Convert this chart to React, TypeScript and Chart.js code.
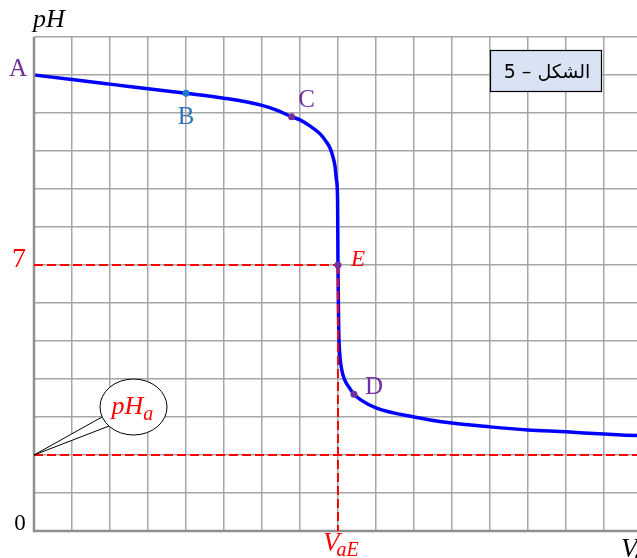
import React, { useEffect, useRef } from "react";
import { Chart, registerables } from "chart.js";

Chart.register(...registerables);

// Titration curve: pH versus added acid volume
const volumes = [0, 1, 2, 3, 4, 5, 6, 6.4, 6.78, 7.0, 7.26, 7.53, 7.68, 7.79, 7.87, 7.92, 7.96, 7.99, 8.0, 8.01, 8.02, 8.04, 8.1, 8.18, 8.32, 8.42, 8.6, 9, 10, 11, 12, 13, 14, 15, 15.87];
const phValues = [12.0, 11.88, 11.76, 11.64, 11.52, 11.39, 11.2, 11.07, 10.9, 10.82, 10.66, 10.45, 10.26, 10.08, 9.84, 9.61, 9.24, 8.71, 7.0, 6.08, 5.29, 4.76, 4.24, 3.97, 3.74, 3.6, 3.45, 3.24, 3.0, 2.84, 2.74, 2.66, 2.61, 2.55, 2.51];

// Marked points on the curve
const pointNames = ["B", "C", "E", "D"];
const pointVolumes = [4, 6.78, 8, 8.42];
const pointPh = [11.52, 10.9, 7, 3.6];
const pointColors = ["#1a7cc4", "#7030a0", "#7030a0", "#7030a0"];

// Reference values
const V_EQ = 8;
const PH_EQ = 7;
const PH_A = 2;
const PH_START = 12;
const X_MAX = 15.87;
const Y_MAX = 13;

const SERIF = "'Liberation Serif', 'DejaVu Serif', serif";

const annotations = {
  id: "annotations",
  afterDatasetDraw(chart: any, args: any) {
    if (args.index !== 1) return;
    const { ctx, scales, chartArea } = chart;
    const x = scales.x;
    const y = scales.y;
    ctx.save();
    // axes
    ctx.strokeStyle = "#8f8f8f";
    ctx.lineWidth = 2.5;
    ctx.beginPath();
    ctx.moveTo(chartArea.left, chartArea.top);
    ctx.lineTo(chartArea.left, chartArea.bottom);
    ctx.lineTo(chartArea.right, chartArea.bottom);
    ctx.stroke();

    // red dashed guides
    ctx.strokeStyle = "#ff0000";
    ctx.lineWidth = 2;
    ctx.setLineDash([9, 4]);
    ctx.beginPath();
    ctx.moveTo(x.getPixelForValue(0), y.getPixelForValue(PH_EQ));
    ctx.lineTo(x.getPixelForValue(V_EQ), y.getPixelForValue(PH_EQ));
    ctx.moveTo(x.getPixelForValue(V_EQ), y.getPixelForValue(PH_EQ));
    ctx.lineTo(x.getPixelForValue(V_EQ), y.getPixelForValue(0));
    ctx.moveTo(x.getPixelForValue(0), y.getPixelForValue(PH_A));
    ctx.lineTo(chartArea.right, y.getPixelForValue(PH_A));
    ctx.stroke();
    ctx.setLineDash([]);
    ctx.restore();
  },
  afterDraw(chart: any) {
    const { ctx, scales, chartArea } = chart;
    const x = scales.x;
    const y = scales.y;
    ctx.save();
    ctx.textBaseline = "alphabetic";

    // callout for pH_a
    const tipX = x.getPixelForValue(0);
    const tipY = y.getPixelForValue(PH_A);
    const cx = tipX + 99.5;
    const cy = tipY - 48;
    ctx.lineWidth = 1;
    ctx.strokeStyle = "#000";
    ctx.fillStyle = "#fff";
    ctx.beginPath();
    ctx.moveTo(tipX, tipY);
    ctx.lineTo(tipX + 68, tipY - 38);
    ctx.lineTo(tipX + 75, tipY - 29);
    ctx.closePath();
    ctx.fill();
    ctx.beginPath();
    ctx.ellipse(cx, cy, 33.5, 28, 0, 0, Math.PI * 2);
    ctx.fill();
    ctx.stroke();
    ctx.beginPath();
    ctx.moveTo(tipX + 68, tipY - 38);
    ctx.lineTo(tipX, tipY);
    ctx.lineTo(tipX + 75, tipY - 29);
    ctx.stroke();
    ctx.fillStyle = "#ff0000";
    ctx.textAlign = "left";
    ctx.font = `italic 26px ${SERIF}`;
    ctx.fillText("pH", cx - 22, cy + 7);
    const pw = ctx.measureText("pH").width;
    ctx.font = `italic 20px ${SERIF}`;
    ctx.fillText("a", cx - 22 + pw, cy + 13);

    // figure tag
    ctx.fillStyle = "#dae3f3";
    ctx.fillRect(490, 50, 112, 42);
    ctx.strokeStyle = "#000";
    ctx.lineWidth = 1.2;
    ctx.strokeRect(490.5, 50.5, 111, 41);
    ctx.fillStyle = "#000";
    ctx.font = "19px 'DejaVu Sans', sans-serif";
    ctx.textAlign = "center";
    (ctx as any).direction = "rtl";
    ctx.fillText("الشكل – 5", 547, 78);
    (ctx as any).direction = "ltr";

    // axis texts
    ctx.textAlign = "left";
    ctx.fillStyle = "#000";
    ctx.font = `italic 26px ${SERIF}`;
    ctx.fillText("pH", 33, 27);
    ctx.font = `23px ${SERIF}`;
    ctx.textAlign = "center";
    ctx.fillText("0", 20, 530);
    ctx.fillStyle = "#ff0000";
    ctx.font = `28px ${SERIF}`;
    ctx.fillText(String(PH_EQ), 19, y.getPixelForValue(PH_EQ) + 2);

    ctx.fillStyle = "#7030a0";
    ctx.font = `25px ${SERIF}`;
    ctx.fillText("A", 18, y.getPixelForValue(PH_START) + 1);

    // V_aE under the equivalence volume
    const vx = x.getPixelForValue(V_EQ);
    ctx.fillStyle = "#ff0000";
    ctx.textAlign = "left";
    ctx.font = `italic 27px ${SERIF}`;
    ctx.fillText("V", vx - 15, 551);
    const vw = ctx.measureText("V").width;
    ctx.font = `italic 20px ${SERIF}`;
    ctx.fillText("aE", vx - 15 + vw - 3, 556);

    // V_a at the right end of the axis
    ctx.fillStyle = "#000";
    ctx.font = `italic 27px ${SERIF}`;
    ctx.fillText("V", chartArea.right - 16, 557);
    const vw2 = ctx.measureText("V").width;
    ctx.font = `italic 20px ${SERIF}`;
    ctx.fillText("a", chartArea.right - 16 + vw2 - 3, 562);

    // point labels
    pointNames.forEach((name, i) => {
      const px = x.getPixelForValue(pointVolumes[i]);
      const py = y.getPixelForValue(pointPh[i]);
      ctx.textAlign = "center";
      if (name === "B") {
        ctx.fillStyle = "#2e75b6";
        ctx.font = `25px ${SERIF}`;
        ctx.fillText(name, px, py + 31);
      } else if (name === "C") {
        ctx.fillStyle = "#7030a0";
        ctx.font = `25px ${SERIF}`;
        ctx.fillText(name, px + 15, py - 10);
      } else if (name === "D") {
        ctx.fillStyle = "#7030a0";
        ctx.font = `25px ${SERIF}`;
        ctx.fillText(name, px + 20, py);
      } else {
        ctx.fillStyle = "#ff0000";
        ctx.font = `italic 23px ${SERIF}`;
        ctx.fillText(name, px + 20, py + 1);
      }
    });
    ctx.restore();
  },
};

export default function App() {
  const canvasRef = useRef<HTMLCanvasElement | null>(null);

  useEffect(() => {
    if (!canvasRef.current) return;
    const curve = volumes.map((v, i) => ({ x: v, y: phValues[i] }));
    const marks = pointVolumes.map((v, i) => ({ x: v, y: pointPh[i] }));
    const chart = new Chart(canvasRef.current, {
      type: "scatter",
      data: {
        datasets: [
          {
            data: marks,
            showLine: false,
            pointRadius: 3.5,
            pointBackgroundColor: pointColors,
            pointBorderWidth: 0,
          },
          {
            data: curve,
            showLine: true,
            borderColor: "#0000ff",
            borderWidth: 3.5,
            pointRadius: 0,
            cubicInterpolationMode: "monotone",
          },
        ],
      },
      options: {
        animation: false,
        responsive: false,
        layout: { autoPadding: false, padding: { left: 34, top: 37, right: 0, bottom: 27 } },
        plugins: { legend: { display: false }, tooltip: { enabled: false } },
        scales: {
          x: {
            type: "linear",
            min: 0,
            max: X_MAX,
            ticks: { display: false, stepSize: 1, includeBounds: false },
            grid: { color: "#a6a6a6", lineWidth: 1.5, drawTicks: false },
            border: { display: false },
            afterFit: (s: any) => {
              s.height = 0;
            },
          },
          y: {
            type: "linear",
            min: 0,
            max: Y_MAX,
            ticks: { display: false, stepSize: 1, includeBounds: false },
            grid: { color: "#a6a6a6", lineWidth: 1.5, drawTicks: false },
            border: { display: false },
            afterFit: (s: any) => {
              s.width = 0;
            },
          },
        },
      },
      plugins: [annotations],
    } as any);
    return () => chart.destroy();
  }, []);

  return (
    <div style={{ position: "fixed", left: 0, top: 0, width: 637, height: 558, background: "#fff" }}>
      <canvas ref={canvasRef} width={637} height={558} />
    </div>
  );
}
